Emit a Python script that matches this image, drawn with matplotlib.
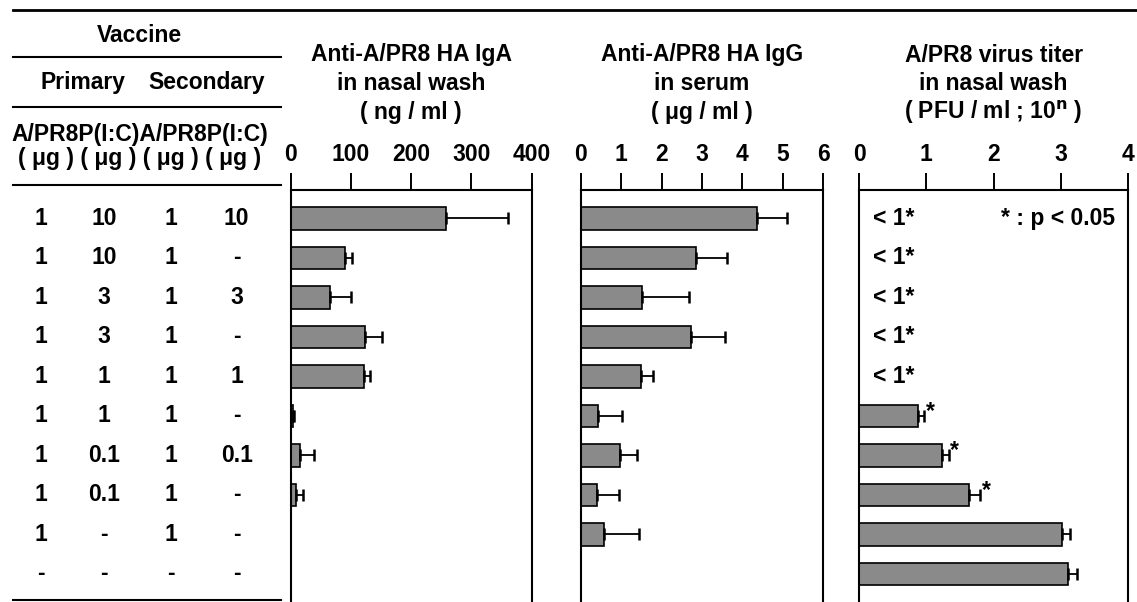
import numpy as np
import matplotlib.pyplot as plt
from matplotlib.lines import Line2D

plt.rcParams['font.family'] = ['Liberation Sans', 'DejaVu Sans']
plt.rcParams['font.weight'] = 'bold'
plt.rcParams['font.size'] = 16.5

# vaccine table (10 groups, top to bottom)
prim_apr8 = ['1', '1', '1', '1', '1', '1', '1', '1', '1', '-']
prim_pic = ['10', '10', '3', '3', '1', '1', '0.1', '0.1', '-', '-']
sec_apr8 = ['1', '1', '1', '1', '1', '1', '1', '1', '1', '-']
sec_pic = ['10', '-', '3', '-', '1', '-', '0.1', '-', '-', '-']

# anti-HA IgA in nasal wash (ng/ml)
iga_mean = np.array([257, 90, 65, 123, 122, 4, 16, 9, 0, 0])
iga_err = np.array([103, 12, 35, 29, 9, 2, 23, 11, 0, 0])

# anti-HA IgG in serum (ug/ml)
igg_mean = np.array([4.37, 2.85, 1.51, 2.72, 1.49, 0.42, 0.98, 0.40, 0.58, 0])
igg_err = np.array([0.74, 0.78, 1.18, 0.85, 0.29, 0.61, 0.41, 0.55, 0.86, 0])

# virus titer in nasal wash (PFU/ml; 10^n), first 5 groups below detection
titer_mean = np.array([np.nan, np.nan, np.nan, np.nan, np.nan, 0.88, 1.23, 1.63, 3.01, 3.10])
titer_err = np.array([0, 0, 0, 0, 0, 0.09, 0.10, 0.17, 0.13, 0.14])
titer_below = [True, True, True, True, True, False, False, False, False, False]
titer_sig = [False, False, False, False, False, True, True, True, False, False]

W, H = 1137, 602
rows = np.arange(10)


def px_box(x0, x1, y0, y1):
    return [x0 / W, 1 - y1 / H, (x1 - x0) / W, (y1 - y0) / H]


fig = plt.figure(figsize=(W / 100, H / 100), dpi=100)

ax_tab = fig.add_axes(px_box(12.7, 281, 190, 602))
ax1 = fig.add_axes(px_box(290.7, 531.7, 190, 602), sharey=ax_tab)
ax2 = fig.add_axes(px_box(580.7, 823.3, 190, 602), sharey=ax_tab)
ax3 = fig.add_axes(px_box(859, 1128.3, 190, 602), sharey=ax_tab)
ax_tab.set_ylim(9.71, -0.72)

# table part
ax_tab.axis('off')
tr = ax_tab.get_yaxis_transform()
col_x = [0.104, 0.340, 0.589, 0.835]
for cx, col in zip(col_x, [prim_apr8, prim_pic, sec_apr8, sec_pic]):
    for i, v in enumerate(col):
        ax_tab.text(cx, i, v, transform=tr, ha='center', va='center')

for y in [1.0121, 1.2015, 1.3228, 0.004]:
    ax_tab.plot([0, 1], [y, y], transform=ax_tab.transAxes, color='k', lw=1.5, clip_on=False)

fig.add_artist(Line2D([12.7 / W, 1], [1 - 10 / H, 1 - 10 / H], color='k', lw=2))

def ftext(x, y, s, **kw):
    fig.text(x / W, 1 - y / H, s, ha='center', va='center', **kw)

ftext(139, 35, 'Vaccine')
ftext(83, 83, 'Primary')
ftext(207, 83, 'Secondary')
ftext(140, 134, 'A/PR8P(I:C)A/PR8P(I:C)')
ftext(140, 159, '( \u03bcg ) ( \u03bcg ) ( \u03bcg ) ( \u03bcg )')


def style(ax, xmax, step, title):
    ax.set_xlim(0, xmax)
    ax.set_xticks(np.arange(0, xmax + step / 2, step))
    ax.xaxis.tick_top()
    ax.tick_params(axis='x', direction='out', length=12, width=1.4, pad=5, labelsize=16.5)
    ax.tick_params(axis='y', left=False, labelleft=False)
    ax.spines['bottom'].set_visible(False)
    for s in ['top', 'left', 'right']:
        ax.spines[s].set_linewidth(1.5)
    pos = ax.get_position()
    cx = (pos.x0 + pos.x1) / 2 * W
    for yy, line in zip([55, 83, 112], title):
        ftext(cx, yy, line)


def bars(ax, mean, err):
    m = np.isfinite(mean) & (mean > 0)
    ax.barh(rows[m], mean[m], height=0.57, color='#8a8a8a', edgecolor='k', linewidth=1.2)
    ax.errorbar(mean[m], rows[m], xerr=[np.zeros(m.sum()), err[m]], fmt='none',
                ecolor='k', elinewidth=1.3, capsize=4.3, capthick=1.8)


bars(ax1, iga_mean, iga_err)
style(ax1, 400, 100, ['Anti-A/PR8 HA IgA', 'in nasal wash', '( ng / ml )'])

bars(ax2, igg_mean, igg_err)
style(ax2, 6, 1, ['Anti-A/PR8 HA IgG', 'in serum', '( \u03bcg / ml )'])

bars(ax3, titer_mean, titer_err)
style(ax3, 4, 1, ['A/PR8 virus titer', 'in nasal wash', '( PFU / ml ; 10$^{\\mathbf{n}}$ )'])
for i in rows:
    if titer_below[i]:
        ax3.text(0.21, i, '< 1*', ha='left', va='center')
    if titer_sig[i]:
        ax3.text(titer_mean[i] + titer_err[i] + 0.02, i + 0.05, '*', ha='left', va='baseline')
ax3.text(3.80, 0, '* : p < 0.05', ha='right', va='center')

fig.savefig('out.png', dpi=100)
